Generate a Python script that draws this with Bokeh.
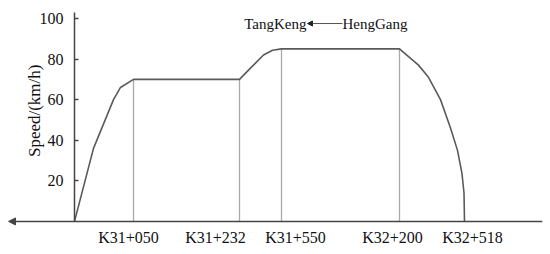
import math
from bokeh.plotting import figure
from bokeh.models import Range1d, LinearAxis, FixedTicker, Arrow, NormalHead, Label
from bokeh.embed import file_html
from bokeh.resources import INLINE

# stations along the line (schematic position, speed at station)
stations = ["K31+050", "K31+232", "K31+550", "K32+200", "K32+518"]
station_pos = [59, 165, 207, 325, 390]
station_speed = [70, 70, 85, 85, 0]
label_pos = [54, 141, 221, 318, 398]

# speed profile
curve_pos = [0, 19, 39, 46, 59, 165, 176, 189, 198, 207, 325, 344, 354, 366, 376, 383, 387.5, 389.5, 390]
curve_speed = [0, 36, 60, 66, 70, 70, 75.5, 82, 84.3, 85, 85, 77, 71, 60, 46, 35, 23.5, 14, 0]

y_ticks = [20, 40, 60, 80, 100]

FONT = "Liberation Serif"
AX = "#444444"
TXT = "#111111"

p = figure(width=550, height=254, output_backend="svg", toolbar_location=None,
           x_range=Range1d(-66, 468), y_range=Range1d(-3, 104.9),
           y_axis_location=None, min_border_left=8, min_border_right=8,
           min_border_top=8, min_border_bottom=27)
p.outline_line_color = None
p.grid.visible = False
p.background_fill_color = "white"

# bottom axis with station labels
xa = p.xaxis[0]
xa.ticker = FixedTicker(ticks=label_pos)
xa.major_label_overrides = {v: s for v, s in zip(label_pos, stations)}
xa.major_tick_in = 0
xa.major_tick_out = 0
xa.minor_tick_line_color = None
xa.axis_line_color = None
xa.major_label_standoff = 1
xa.major_label_text_font = FONT
xa.major_label_text_font_size = "16px"
xa.major_label_text_color = TXT

# y axis pinned at x = 0
ya = LinearAxis(fixed_location=0, ticker=FixedTicker(ticks=y_ticks), bounds=(0, 103))
ya.major_tick_in = 4
ya.major_tick_out = 0
ya.minor_tick_line_color = None
ya.axis_line_color = AX
ya.axis_line_width = 1.5
ya.major_tick_line_color = AX
ya.major_tick_line_width = 1.5
ya.major_label_standoff = 11
ya.major_label_text_font = FONT
ya.major_label_text_font_size = "16px"
ya.major_label_text_color = TXT
p.add_layout(ya, "left")

# y axis title
p.add_layout(Label(x=-40, y=54.5, text="Speed/(km/h)", angle=math.pi / 2,
                   text_align="center", text_baseline="middle",
                   text_font=FONT, text_font_size="17px", text_color=TXT))

# horizontal axis line with arrow pointing left
p.add_layout(Arrow(end=NormalHead(size=7, line_color=AX, fill_color=AX, line_width=1),
                   x_start=468, y_start=0, x_end=-66, y_end=0,
                   line_color=AX, line_width=1.5))

# station verticals
p.segment(x0=station_pos, y0=[0] * len(station_pos), x1=station_pos, y1=station_speed,
          line_color="#aaaaaa", line_width=1.3)

# speed curve
p.line(curve_pos, curve_speed, line_color="#5a5a5a", line_width=1.6)

# direction annotation
p.add_layout(Label(x=232, y=97.5, text="TangKeng", text_align="right", text_baseline="middle",
                   text_font=FONT, text_font_size="15px", text_color=TXT))
p.add_layout(Label(x=268, y=97.5, text="HengGang", text_align="left", text_baseline="middle",
                   text_font=FONT, text_font_size="15px", text_color=TXT))
p.add_layout(Arrow(end=NormalHead(size=5, line_color="#222222", fill_color="#222222", line_width=1),
                   x_start=268, y_start=97.5, x_end=233, y_end=97.5,
                   line_color="#555555", line_width=1))

open("out.html", "w").write(file_html(p, INLINE))
